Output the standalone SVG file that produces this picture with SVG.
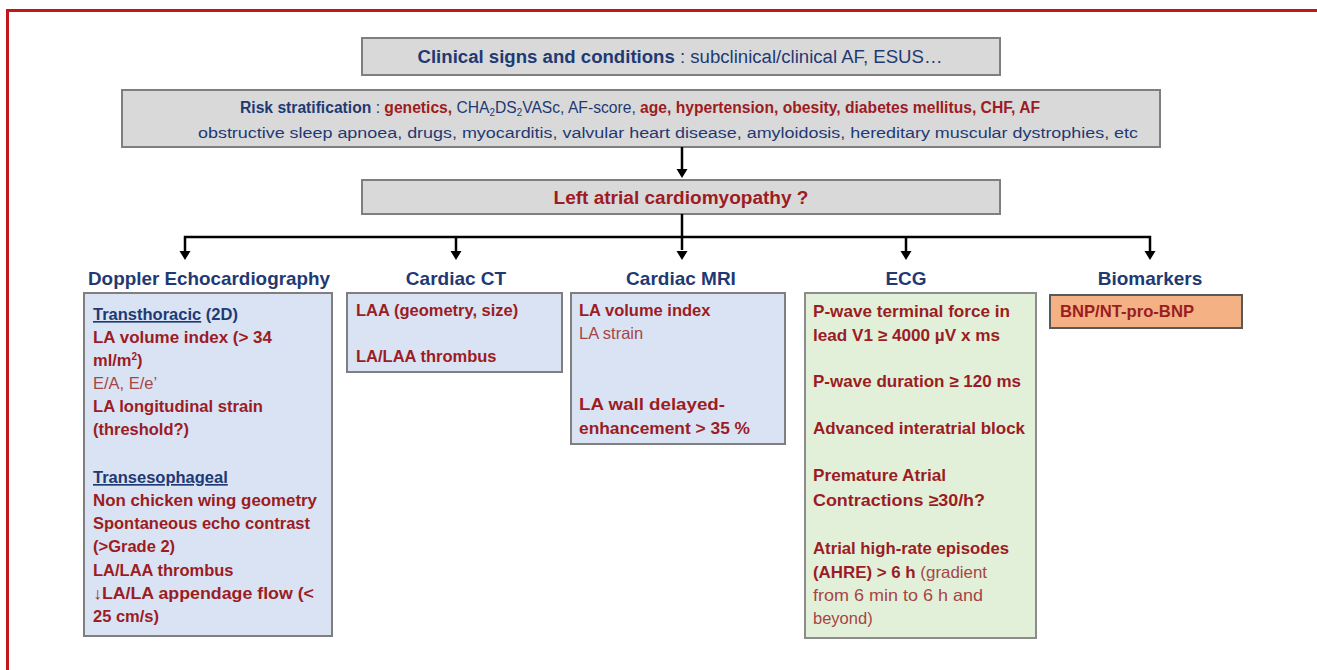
<svg xmlns="http://www.w3.org/2000/svg" width="1317" height="670" viewBox="0 0 1317 670">
<style>
text{font-family:"Liberation Sans",Arial,sans-serif}
.gray{fill:#d9d9d9;stroke:#7f7f7f;stroke-width:2}
.blue{fill:#dae3f3;stroke:#7f7f7f;stroke-width:2}
.green{fill:#e2f0d9;stroke:#8c8c8c;stroke-width:2}
.orange{fill:#f4b183;stroke:#595959;stroke-width:2}
.nb{fill:#1f3a73;font-weight:bold}
.nr{fill:#1f3a73}
.rb{fill:#9c1c24;font-weight:bold}
.rr{fill:#a64545}
.head{fill:#1f3a73;font-weight:bold;font-size:19px;text-anchor:middle}
.body{font-size:16.5px}
.conn{stroke:#000;stroke-width:2.5;fill:none}
</style>
<defs>
<path id="arrowhead" d="M-5.5,-9 L5.5,-9 L0,0 Z" fill="#000"/>
</defs>
<rect x="0" y="0" width="1317" height="670" fill="#fff"/>
<path d="M7.5,670 V10.5 H1317" fill="none" stroke="#c0161c" stroke-width="3"/>

<g id="clinical">
<rect class="gray" x="362" y="38" width="638" height="37"/>
<text x="680" y="63" font-size="18" text-anchor="middle" textLength="525" lengthAdjust="spacingAndGlyphs"><tspan class="nb">Clinical signs and conditions</tspan><tspan class="nr"> : subclinical/clinical AF, ESUS…</tspan></text>
</g>

<g id="risk">
<rect class="gray" x="122" y="90" width="1038" height="57"/>
<text x="640" y="113" font-size="16" text-anchor="middle" textLength="800" lengthAdjust="spacingAndGlyphs"><tspan class="nb">Risk stratification</tspan><tspan class="nr">  : </tspan><tspan class="rb">genetics, </tspan><tspan class="nr">CHA</tspan><tspan class="nr" font-size="10" dy="3">2</tspan><tspan class="nr" dy="-3">DS</tspan><tspan class="nr" font-size="10" dy="3">2</tspan><tspan class="nr" dy="-3">VASc, AF-score, </tspan><tspan class="rb">age, hypertension, obesity, diabetes mellitus, CHF, AF</tspan></text>
<text x="668" y="138" font-size="15.5" text-anchor="middle" class="nr" textLength="940" lengthAdjust="spacingAndGlyphs">obstructive sleep apnoea, drugs, myocarditis, valvular heart disease, amyloidosis, hereditary  muscular dystrophies, etc</text>
</g>

<g id="lacm">
<rect class="gray" x="362" y="180" width="638" height="34"/>
<text x="681" y="204" font-size="18" text-anchor="middle" class="rb" textLength="255" lengthAdjust="spacingAndGlyphs">Left atrial cardiomyopathy ?</text>
</g>

<g id="connectors">
<line class="conn" x1="682" y1="147" x2="682" y2="170"/>
<use href="#arrowhead" x="682" y="178"/>
<line class="conn" x1="682" y1="214" x2="682" y2="250"/>
<polyline class="conn" points="185,252 185,237 1150,237 1150,252"/>
<line class="conn" x1="456" y1="237" x2="456" y2="252"/>
<line class="conn" x1="906" y1="237" x2="906" y2="252"/>
<use href="#arrowhead" x="185" y="260"/>
<use href="#arrowhead" x="456" y="260"/>
<use href="#arrowhead" x="682" y="260"/>
<use href="#arrowhead" x="906" y="260"/>
<use href="#arrowhead" x="1150" y="260"/>
</g>

<g id="doppler">
<text class="head" x="209" y="285" textLength="242" lengthAdjust="spacingAndGlyphs">Doppler Echocardiography</text>
<rect class="blue" x="84" y="293" width="248" height="343"/>
<g class="body">
<text x="93" y="320"><tspan class="nb" text-decoration="underline">Transthoracic</tspan><tspan class="nb">  (2D)</tspan></text>
<text x="93" y="343" class="rb" textLength="179" lengthAdjust="spacingAndGlyphs">LA volume index (&gt; 34</text>
<text x="93" y="366" class="rb">ml/m<tspan font-size="10" dy="-6">2</tspan><tspan dy="6">)</tspan></text>
<text x="93" y="389" class="rr">E/A, E/e’</text>
<text x="93" y="412" class="rb" textLength="170" lengthAdjust="spacingAndGlyphs">LA longitudinal  strain</text>
<text x="93" y="435" class="rb" textLength="96" lengthAdjust="spacingAndGlyphs">(threshold?)</text>
<text x="93" y="483" class="nb" text-decoration="underline">Transesophageal</text>
<text x="93" y="506" class="rb" textLength="224" lengthAdjust="spacingAndGlyphs">Non chicken wing geometry</text>
<text x="93" y="529" class="rb" textLength="217" lengthAdjust="spacingAndGlyphs">Spontaneous  echo contrast</text>
<text x="93" y="552" class="rb">(&gt;Grade 2)</text>
<text x="93" y="576" class="rb">LA/LAA thrombus</text>
<text x="93" y="599" class="rb" textLength="221" lengthAdjust="spacingAndGlyphs">↓LA/LA appendage flow (&lt;</text>
<text x="93" y="622" class="rb">25 cm/s)</text>
</g>
</g>

<g id="ct">
<text class="head" x="456" y="285">Cardiac CT</text>
<rect class="blue" x="347" y="293" width="215" height="79"/>
<g class="body">
<text x="356" y="316" class="rb">LAA (geometry, size)</text>
<text x="356" y="362" class="rb">LA/LAA thrombus</text>
</g>
</g>

<g id="mri">
<text class="head" x="681" y="285">Cardiac MRI</text>
<rect class="blue" x="571" y="293" width="214" height="151"/>
<g class="body">
<text x="579" y="316" class="rb">LA volume index</text>
<text x="579" y="339" class="rr">LA strain</text>
<text x="579" y="410" class="rb" textLength="146" lengthAdjust="spacingAndGlyphs">LA wall delayed-</text>
<text x="579" y="434" class="rb" textLength="171" lengthAdjust="spacingAndGlyphs">enhancement &gt; 35 %</text>
</g>
</g>

<g id="ecg">
<text class="head" x="906" y="285">ECG</text>
<rect class="green" x="805" y="293" width="231" height="345"/>
<g class="body">
<text x="813" y="317" class="rb" textLength="197" lengthAdjust="spacingAndGlyphs">P-wave terminal  force in</text>
<text x="813" y="341" class="rb" textLength="187" lengthAdjust="spacingAndGlyphs">lead V1 ≥ 4000 µV x ms</text>
<text x="813" y="387" class="rb" textLength="208" lengthAdjust="spacingAndGlyphs">P-wave duration  ≥ 120 ms</text>
<text x="813" y="434" class="rb" textLength="212" lengthAdjust="spacingAndGlyphs">Advanced interatrial  block</text>
<text x="813" y="481" class="rb" textLength="133" lengthAdjust="spacingAndGlyphs">Premature  Atrial</text>
<text x="813" y="506" class="rb" textLength="172" lengthAdjust="spacingAndGlyphs">Contractions  ≥30/h?</text>
<text x="813" y="554" class="rb" textLength="196" lengthAdjust="spacingAndGlyphs">Atrial  high-rate  episodes</text>
<text x="813" y="578" textLength="174" lengthAdjust="spacingAndGlyphs"><tspan class="rb">(AHRE) &gt; 6 h </tspan><tspan class="rr">(gradient</tspan></text>
<text x="813" y="601" class="rr" textLength="170" lengthAdjust="spacingAndGlyphs">from 6 min to 6 h and</text>
<text x="813" y="624" class="rr">beyond)</text>
</g>
</g>

<g id="biomarkers">
<text class="head" x="1150" y="285">Biomarkers</text>
<rect class="orange" x="1050" y="295" width="192" height="33"/>
<text x="1060" y="317" class="rb body" textLength="134" lengthAdjust="spacingAndGlyphs">BNP/NT-pro-BNP</text>
</g>
</svg>
